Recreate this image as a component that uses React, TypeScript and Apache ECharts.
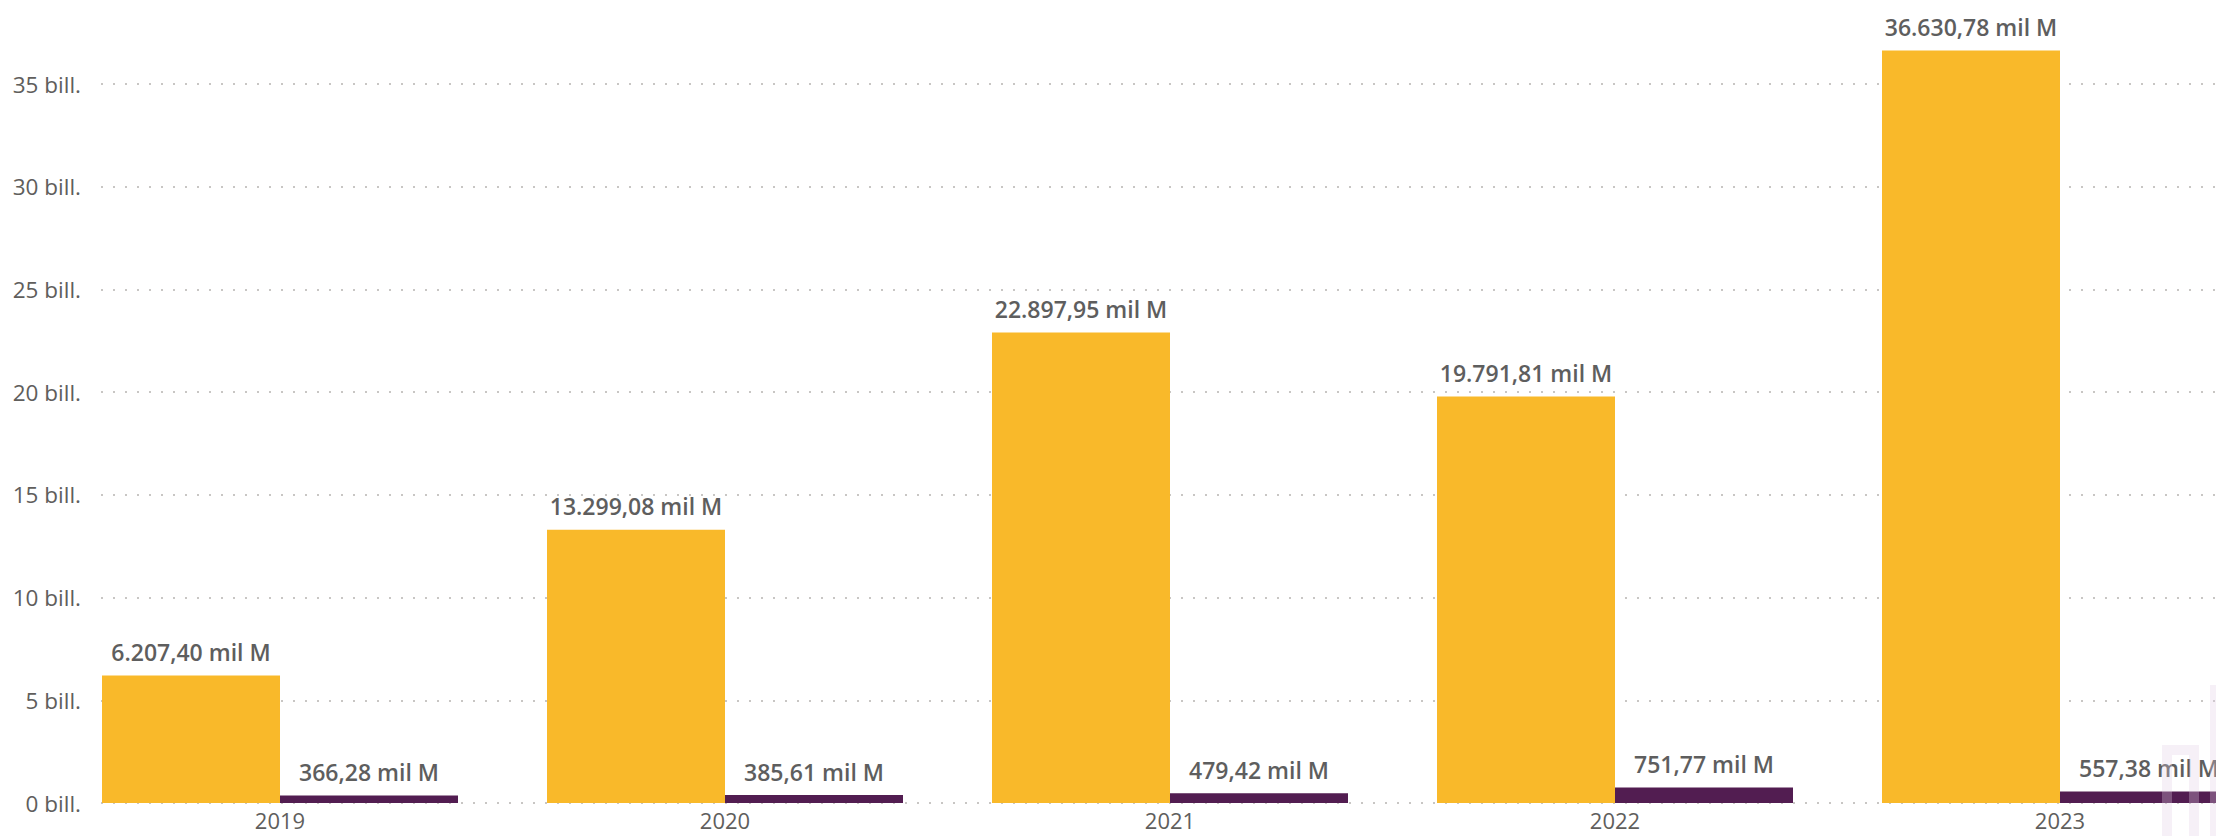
import React, { useEffect, useRef } from "react";
import * as echarts from "echarts";

const years = ["2019", "2020", "2021", "2022", "2023"];
// values in "mil M" (thousand millions)
const yellowValues = [6207.4, 13299.08, 22897.95, 19791.81, 36630.78];
const purpleValues = [366.28, 385.61, 479.42, 751.77, 557.38];
const yTicks = [0, 5000, 10000, 15000, 20000, 25000, 30000, 35000, 40000];

const fmtES = (v: number) => {
  const [intPart, dec] = v.toFixed(2).split(".");
  const grouped = intPart.replace(/\B(?=(\d{3})+(?!\d))/g, ".");
  return `${grouped},${dec} mil M`;
};

const FONT = '"Segoe UI", "Open Sans", "Noto Sans", sans-serif';
const TEXT = "#605E5C";

export default function App() {
  const ref = useRef<HTMLDivElement>(null);
  useEffect(() => {
    if (!ref.current) return;
    const chart = echarts.init(ref.current, undefined, { renderer: "svg" });
    const yMin = yTicks[0];
    const yMax = yTicks[yTicks.length - 1];
    const interval = yTicks[1] - yTicks[0];
    const gridTop = 21.3;
    const gridBottom = 57;
    chart.setOption({
      animation: false,
      backgroundColor: "#ffffff",
      textStyle: { fontFamily: FONT },
      grid: [
        { left: 101, right: 0, top: gridTop, bottom: gridBottom, containLabel: false },
        { left: 57.5, width: 2225, top: gridTop, bottom: gridBottom, containLabel: false },
      ],
      xAxis: [
        { type: "category", gridIndex: 0, data: years, show: false },
        {
          type: "category",
          gridIndex: 1,
          data: years,
          axisLine: { show: false },
          axisTick: { show: false },
          splitLine: { show: false },
          axisLabel: { color: TEXT, fontSize: 22, fontFamily: FONT, margin: 6 },
        },
      ],
      yAxis: [
        {
          type: "value",
          gridIndex: 0,
          min: yMin,
          max: yMax,
          interval,
          axisLine: { show: false },
          axisTick: { show: false },
          axisLabel: {
            color: TEXT,
            fontSize: 22.5,
            fontFamily: FONT,
            margin: 20,
            showMaxLabel: false,
            formatter: (v: number) => `${v / 1000} bill.`,
          },
          splitLine: {
            show: true,
            lineStyle: { color: "#C8C6C4", width: 2, type: [2, 10] },
          },
        },
        {
          type: "value",
          gridIndex: 1,
          min: yMin,
          max: yMax,
          interval,
          show: false,
          splitLine: { show: false },
        },
      ],
      series: [
        {
          type: "bar",
          xAxisIndex: 1,
          yAxisIndex: 1,
          data: yellowValues,
          barGap: "0%",
          barCategoryGap: "20%",
          itemStyle: { color: "#F9B92A" },
          label: {
            show: true,
            position: "top",
            distance: 12,
            color: "#5E5E5E",
            fontSize: 23,
            fontWeight: 600,
            fontFamily: FONT,
            formatter: (p: any) => fmtES(p.value),
          },
          z: 3,
        },
        {
          type: "bar",
          xAxisIndex: 1,
          yAxisIndex: 1,
          data: purpleValues,
          barGap: "0%",
          barCategoryGap: "20%",
          itemStyle: { color: "#521D51" },
          label: {
            show: true,
            position: "top",
            distance: 12,
            color: "#5E5E5E",
            fontSize: 23,
            fontWeight: 600,
            fontFamily: FONT,
            formatter: (p: any) => fmtES(p.value),
          },
          z: 3,
        },
      ],
      graphic: [
        {
          type: "rect",
          z: 100,
          silent: true,
          shape: { x: 2167, y: 790, width: 27, height: 120 },
          style: { fill: "none", stroke: "rgba(225,205,230,0.3)", lineWidth: 10 },
        },
        {
          type: "rect",
          z: 100,
          silent: true,
          shape: { x: 2215, y: 730, width: 27, height: 180 },
          style: { fill: "none", stroke: "rgba(225,205,230,0.3)", lineWidth: 10 },
        },
      ],
    });
    return () => chart.dispose();
  }, []);
  return (
    <div
      style={{
        position: "fixed",
        left: 0,
        top: 0,
        width: 2216,
        height: 836,
        overflow: "hidden",
        background: "#fff",
      }}
    >
      <div
        ref={ref}
        style={{ position: "absolute", left: 0, top: -40, width: 2300, height: 900 }}
      />
    </div>
  );
}
